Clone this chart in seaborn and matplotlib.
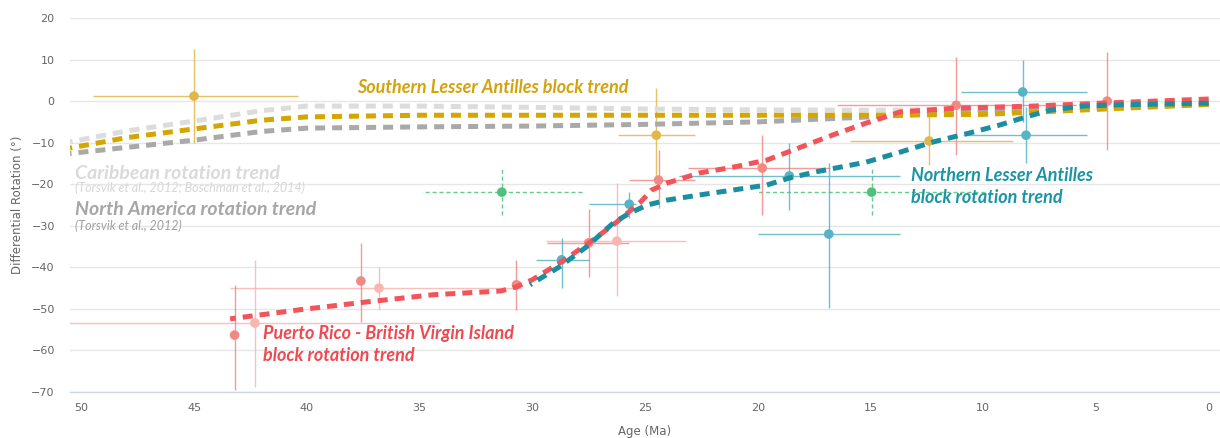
import matplotlib
matplotlib.use("Agg")
import matplotlib.pyplot as plt
import seaborn as sns
import numpy as np

# trend curves: age (Ma) vs differential rotation (deg)
carib_age = [50.5, 48, 45, 42, 40, 35, 30, 25, 20, 15, 10, 5, 0]
carib_rot = [-9.8, -7.2, -4.8, -2.3, -1.2, -1.2, -1.5, -1.9, -2.1, -2.2, -2.0, -1.5, -0.8]

na_age = [50.5, 45, 42, 40, 35, 30, 25, 20, 15, 12, 10, 5, 0]
na_rot = [-12.6, -9.4, -7.3, -6.5, -6.2, -6.0, -5.6, -5.0, -3.8, -3.0, -2.5, -1.5, -0.8]

sla_trend_age = [50.5, 48, 45, 42, 40, 35, 30, 20, 15, 10, 5, 0]
sla_trend_rot = [-11.3, -8.8, -6.7, -4.6, -3.8, -3.4, -3.4, -3.4, -3.4, -3.2, -2.0, -0.8]

prvi_trend_age = [43.4, 40.3, 37.3, 34.4, 31.4, 30.7, 30.0, 28.8, 27.5, 26.3, 25.2, 24.7,
                  24.0, 22.6, 21.1, 19.6, 18.1, 16.7, 15.2, 14.1, 13.7, 11.2, 7.8, 4.8, 0]
prvi_trend_rot = [-52.4, -50.2, -48.3, -46.6, -45.7, -44.7, -43.0, -39.0, -34.2, -29.3, -24.3, -21.4,
                  -19.7, -17.3, -15.9, -14.2, -11.1, -8.2, -5.3, -3.4, -2.6, -1.7, -1.2, -0.5, 0.5]

nla_trend_age = [30.1, 28.8, 27.6, 26.4, 25.7, 24.9, 24.0, 22.6, 21.1, 19.6, 18.6, 17.4,
                 15.2, 13.7, 12.2, 10.7, 9.3, 8.1, 7.05, 5.6, 4.0, 2.0, 0]
nla_trend_rot = [-44.2, -39.9, -35.1, -29.3, -27.0, -25.0, -23.8, -22.6, -21.4, -20.2, -18.5, -17.0,
                 -14.7, -12.3, -9.8, -7.8, -5.8, -3.8, -2.2, -1.2, -0.9, -0.7, -0.5]

# paleomagnetic sites: age, rotation, age range (young, old), rotation range (low, high)
sla_age = [45.0, 24.5, 12.4]
sla_rot = [1.2, -8.2, -9.6]
sla_age_young = [40.4, 22.8, 8.7]
sla_age_old = [49.5, 26.2, 15.9]
sla_rot_low = [-10.0, -19.0, -15.4]
sla_rot_high = [12.5, 3.1, -3.5]

carib_site_age = [31.35, 14.95]
carib_site_rot = [-21.9, -21.9]
carib_site_young = [27.8, 9.9]
carib_site_old = [34.9, 20.0]
carib_site_low = [-27.3, -27.3]
carib_site_high = [-15.8, -15.8]

prvi_age = [43.2, 37.6, 30.7, 27.5, 24.4, 19.8, 11.2, 4.5]
prvi_rot = [-56.3, -43.3, -44.2, -34.1, -19.0, -16.1, -1.0, 0.0]
prvi_age_young = [43.05, 37.45, 30.55, 25.7, 22.8, 16.8, 5.9, 4.35]
prvi_age_old = [43.35, 37.75, 30.85, 29.35, 25.7, 23.1, 16.5, 4.65]
prvi_rot_low = [-69.5, -53.2, -50.2, -42.3, -25.8, -27.4, -13.0, -11.8]
prvi_rot_high = [-44.2, -34.1, -38.2, -26.0, -11.8, -8.2, 10.6, 11.8]

prvi_b_age = [42.3, 36.8, 26.25]
prvi_b_rot = [-53.4, -45.0, -33.7]
prvi_b_age_young = [34.1, 30.5, 23.2]
prvi_b_age_old = [50.6, 43.4, 29.4]
prvi_b_rot_low = [-68.8, -50.2, -47.0]
prvi_b_rot_high = [-38.2, -39.9, -19.7]

nla_age = [28.7, 25.7, 18.6, 16.85, 8.25, 8.1]
nla_rot = [-38.2, -24.8, -18.0, -32.0, 2.2, -8.2]
nla_age_young = [27.5, 25.4, 13.7, 13.7, 5.4, 5.4]
nla_age_old = [29.85, 27.5, 23.5, 20.0, 11.0, 10.9]
nla_rot_low = [-45.0, -28.1, -26.2, -49.8, -5.0, -14.9]
nla_rot_high = [-33.0, -21.9, -10.1, -14.9, 9.9, -1.5]

GOLD, GOLD_PT = "#d6a600", "#e2b74a"
LGRAY, GRAY = "#dcdcdc", "#a9a9a9"
RED, RED_PT, PINK_PT = "#f2545b", "#f28a84", "#f8b6b1"
TEAL, TEAL_PT = "#1a8fa0", "#58b3c4"
GREEN = "#4ec27a"

sns.set_style("white")
plt.rcParams["font.family"] = ["DejaVu Sans"]

fig = plt.figure(figsize=(12.2, 4.38), dpi=100)
ax = fig.add_axes([70 / 1220, 46 / 438, 1150 / 1220, 374 / 438])


def draw_sites(age, rot, young, old, low, high, color, dashed=False):
    age = np.array(age)
    rot = np.array(rot)
    xerr = [age - np.array(young), np.array(old) - age]
    yerr = [rot - np.array(low), np.array(high) - rot]
    eb = ax.errorbar(age, rot, xerr=xerr, yerr=yerr, fmt="none", ecolor=color,
                     elinewidth=1, alpha=0.85, zorder=2)
    if dashed:
        for c in eb[2]:
            c.set_linestyle((0, (3, 2)))
    sns.scatterplot(x=age, y=rot, color=color, s=48, edgecolor="none", ax=ax, zorder=3)


draw_sites(sla_age, sla_rot, sla_age_young, sla_age_old, sla_rot_low, sla_rot_high, GOLD_PT)
draw_sites(carib_site_age, carib_site_rot, carib_site_young, carib_site_old,
           carib_site_low, carib_site_high, GREEN, dashed=True)
draw_sites(prvi_b_age, prvi_b_rot, prvi_b_age_young, prvi_b_age_old, prvi_b_rot_low, prvi_b_rot_high, PINK_PT)
draw_sites(prvi_age, prvi_rot, prvi_age_young, prvi_age_old, prvi_rot_low, prvi_rot_high, RED_PT)
draw_sites(nla_age, nla_rot, nla_age_young, nla_age_old, nla_rot_low, nla_rot_high, TEAL_PT)

dash = (0, (2.0, 1.4))
for xs, ys, col in [(carib_age, carib_rot, LGRAY), (na_age, na_rot, GRAY),
                    (sla_trend_age, sla_trend_rot, GOLD), (prvi_trend_age, prvi_trend_rot, RED),
                    (nla_trend_age, nla_trend_rot, TEAL)]:
    sns.lineplot(x=xs, y=ys, color=col, lw=3.6, linestyle=dash, ax=ax, zorder=4)

bi = dict(family=["Lato", "DejaVu Sans"], weight="bold", style="italic", va="center", ha="left")
ax.text(37.75, 3.2, "Southern Lesser Antilles block trend", color="#d4a20b", fontsize=13, **bi)
ax.text(50.3, -17.3, "Caribbean rotation trend", color="#dadada", fontsize=14, **bi)
ax.text(50.3, -26.2, "North America rotation trend", color="#a6a6a6", fontsize=14, **bi)
it = dict(family=["Lato", "DejaVu Sans"], style="italic", va="center", ha="left")
ax.text(50.3, -20.9, "(Torsvik et al., 2012; Boschman et al., 2014)", color="#d6d6d6", fontsize=9, **it)
ax.text(50.3, -30.0, "(Torsvik et al., 2012)", color="#a0a0a0", fontsize=9, **it)
ax.text(41.95, -56.0, "Puerto Rico - British Virgin Island", color="#f04850", fontsize=13, **bi)
ax.text(41.95, -61.3, "block rotation trend", color="#f04850", fontsize=13, **bi)
ax.text(13.2, -18.0, "Northern Lesser Antilles", color="#1a95a5", fontsize=13, **bi)
ax.text(13.2, -23.3, "block rotation trend", color="#1a95a5", fontsize=13, **bi)

ax.set_xlim(50.5, -0.5)
ax.set_ylim(-70, 20)
ax.set_xticks(range(50, -1, -5))
ax.set_yticks(range(-70, 21, 10))
ax.grid(axis="y", color="#e6e6e6", lw=1)
ax.grid(axis="x", visible=False)
for s in ["top", "right", "left"]:
    ax.spines[s].set_visible(False)
ax.spines["bottom"].set_color("#ccd6eb")
ax.spines["bottom"].set_linewidth(1)
ax.tick_params(axis="x", length=6, width=1, color="#ccd6eb", labelcolor="#666666", labelsize=8, pad=2)
ax.tick_params(axis="y", length=0, labelcolor="#666666", labelsize=8, pad=11)

ax.set_xlabel("Age (Ma)", color="#666666", fontsize=8.5, va="center")
ax.set_ylabel("Differential Rotation (°)", color="#666666", fontsize=8.5, va="center")
ax.xaxis.set_label_coords(0.5, -39 / 374)
ax.yaxis.set_label_coords(-52 / 1150, 0.5)

fig.savefig("out.png", dpi=100)
